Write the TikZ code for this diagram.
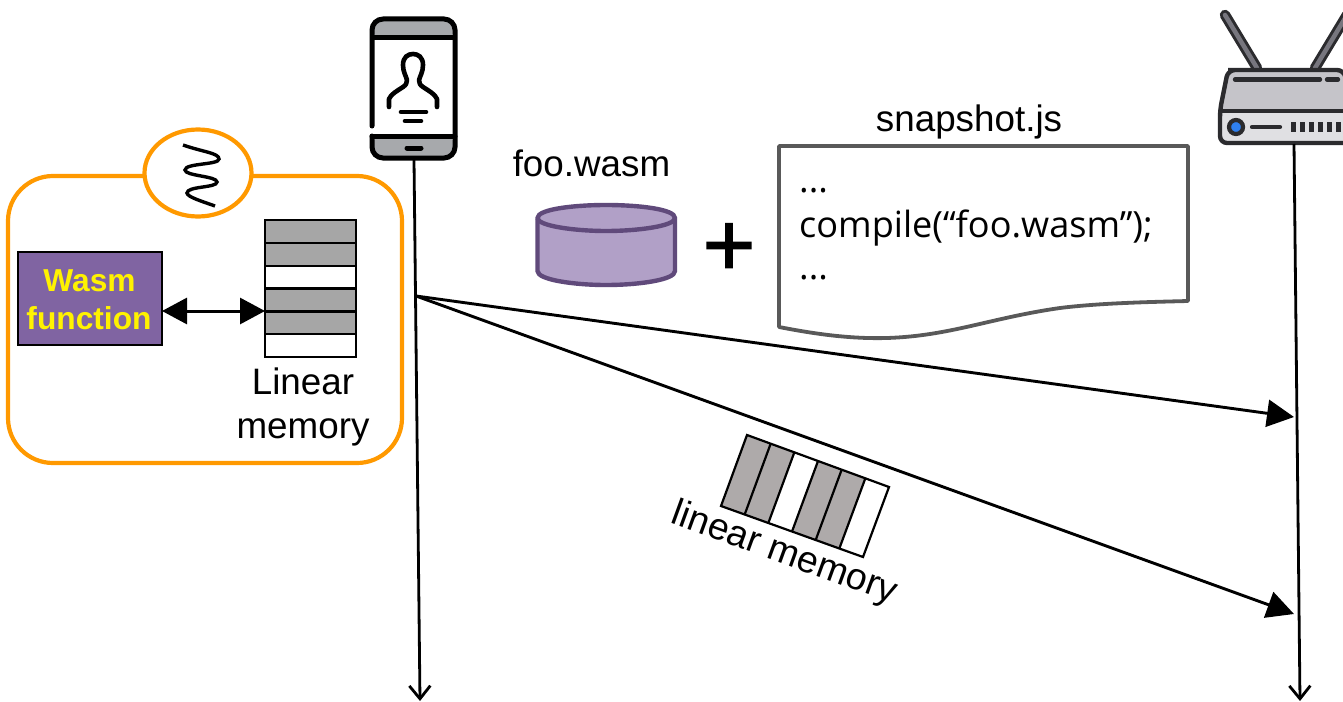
\documentclass[tikz,border=0pt]{standalone}
\usepackage{fontspec}
\setmainfont{Liberation Sans}
\newfontfamily\codefont{Open Sans}
\newfontfamily\plusfont[FakeBold=1.6]{Liberation Sans}
\usetikzlibrary{arrows.meta,calc}
\definecolor{orangeline}{HTML}{FF9900}
\definecolor{purplebox}{HTML}{8064A2}
\definecolor{cylfill}{HTML}{B1A0C7}
\definecolor{cylline}{HTML}{604A7B}
\definecolor{docline}{HTML}{595959}
\definecolor{memgray}{HTML}{A6A6A6}
\definecolor{memgrayb}{HTML}{AEAAAA}
\definecolor{phonegray}{HTML}{A7A9AC}
\definecolor{routerdark}{HTML}{2B2B2E}
\definecolor{routertop}{HTML}{C5C4C9}
\definecolor{routerlow}{HTML}{E0E0E3}
\definecolor{antenna}{HTML}{77767E}
\definecolor{routerblue}{HTML}{2F80F0}
\tikzset{
  label36/.style={inner sep=0pt,font=\fontsize{36.8}{44}\selectfont},
  code36/.style={inner sep=0pt,anchor=base west,font=\codefont\fontsize{36.1}{44}\selectfont},
  lifeline/.style={line width=2.8pt,black,-{Straight Barb[length=13pt,width=21pt,line width=2.8pt]}},
  msg/.style={line width=2.9pt,black,-{Triangle[length=27pt,width=27pt]}},
  memcell/.style={draw=black,line width=2.4pt,minimum width=91pt,minimum height=22.8pt,inner sep=0pt,outer sep=0pt},
  rotcell/.style={draw=black,line width=2.2pt,line join=miter},
}
\begin{document}
\begin{tikzpicture}[x=1pt,y=-1pt]
\clip (0,0) rectangle (1343,701);
% --- orange container
\draw[orangeline,line width=4.2pt,rounded corners=45pt] (8,176) rectangle (402,463);
\draw[orangeline,line width=4.2pt,fill=white] (198,173) ellipse [x radius=53.5pt,y radius=43.5pt];
\draw[black,line width=3.4pt] (183,145) .. controls (203,152) and (219,153) .. (219,159) .. controls (219,165) and (185,163) .. (185,170) .. controls (185,176) and (217,176) .. (217,182) .. controls (217,188) and (187,186) .. (187,193) .. controls (187,197) and (204,202) .. (215,206);
% --- wasm function
\node[draw=black,line width=2pt,fill=purplebox,minimum width=144pt,minimum height=93pt,inner sep=0pt] (fn) at (90,298.5) {};
\node[inner sep=0pt,font=\bfseries\fontsize{31.7}{36}\selectfont,text=yellow] (fnA) at (89.5,281) {Wasm};
\node[inner sep=0pt,font=\bfseries\fontsize{31.7}{36}\selectfont,text=yellow] (fnB) at (89,318) {function};
% --- linear memory stack
\node[memcell,fill=memgray] (m1) at (310.5,231.5) {};
\node[memcell,fill=memgray] (m2) at (310.5,254.3) {};
\node[memcell,fill=white] (m3) at (310.5,277.1) {};
\node[memcell,fill=memgray] (m4) at (310.5,299.9) {};
\node[memcell,fill=memgray] (m5) at (310.5,322.7) {};
\node[memcell,fill=white] (m6) at (310.5,345.5) {};
\coordinate (fnport) at (162,311);
\coordinate (memport) at (265,311);
\draw[line width=3pt,{Triangle[length=25pt,width=26pt]}-{Triangle[length=25pt,width=26pt]}] (fnport) -- (memport);
\node[label36] (l1) at (303,381) {Linear};
\node[label36] (l2) at (303,432) {memory};
% --- phone
\fill[phonegray,rounded corners=10pt] (372,38) -- (372,19) -- (455,19) -- (455,38) -- cycle;
\fill[phonegray,rounded corners=10pt] (372,136) -- (372,158) -- (455,158) -- (455,136) -- cycle;
\draw[black,line width=5pt,line cap=round,rounded corners=11pt] (372,126) -- (372,19) -- (455,19) -- (455,158) -- (372,158) -- (372,136);
\draw[black,line width=5pt] (372,38) -- (455,38);
\draw[black,line width=5pt,line cap=round] (372,136) -- (455,136);
\draw[black,line width=5pt,line cap=round] (407,148) -- (421,148);
\draw[black,line width=4.6pt,line cap=round,line join=round] (389,107) -- (389,99) .. controls (391,94) and (397,91) .. (403,87) .. controls (406,85) and (407,83) .. (407,80) .. controls (406,76) and (403,72) .. (403,65) .. controls (403,57) and (408,54) .. (413,54) .. controls (418,54) and (423,57) .. (423,65) .. controls (423,72) and (420,76) .. (419,80) .. controls (419,83) and (420,85) .. (423,87) .. controls (429,91) and (435,94) .. (437,99) -- (437,107);
\draw[black,line width=4.6pt,line cap=round] (401,112) -- (426,112);
\draw[black,line width=4.6pt,line cap=round] (405,121) -- (421,121);
\coordinate (phone) at (414,160);
\coordinate (phoneend) at (420,701);
\draw[lifeline] (phone) -- (phoneend);
% --- router
\draw[routerdark,line width=10.5pt,line cap=round] (1225,15) -- (1257,68);
\draw[antenna,line width=4.5pt,line cap=round] (1225,15) -- (1257,68);
\draw[routerdark,line width=10.5pt,line cap=round] (1347,15) -- (1315,68);
\draw[antenna,line width=4.5pt,line cap=round] (1347,15) -- (1315,68);
\fill[routerlow,rounded corners=7pt] (1220,105) -- (1220,143) -- (1352,143) -- (1352,105) -- cycle;
\fill[routertop,rounded corners=7pt] (1220,111) -- (1228,70) -- (1344,70) -- (1352,111) -- cycle;
\fill[routertop] (1222,104) rectangle (1350,111);
\draw[routerdark,line width=4.4pt,rounded corners=7pt,line join=round] (1228,70) -- (1344,70) -- (1352,110) -- (1352,143) -- (1220,143) -- (1220,110) -- (1228,70) -- (1240,70);
\draw[routerdark,line width=4.4pt] (1220,111) -- (1352,111);
\draw[routerdark,line width=4.4pt,line cap=round] (1235,79.5) -- (1320,79.5);
\draw[routerdark,line width=4.4pt,line cap=round] (1327,79.5) -- (1338,79.5);
\draw[routerdark,fill=routerblue,line width=4.2pt] (1236,127) circle [radius=7pt];
\draw[routerdark,line width=4.2pt,line cap=round] (1252,127) -- (1280,127);
\foreach \bx in {1293,1302,1311,1320,1329,1338}
  \fill[routerdark] (\bx-2.5,122) rectangle (\bx+2.5,132);
\coordinate (router) at (1294,144);
\coordinate (routerend) at (1300,701);
\draw[lifeline] (router) -- (routerend);
% --- foo.wasm
\node[label36] (foo) at (591.5,163) {foo.wasm};
\draw[cylline,line width=4.4pt,fill=cylfill] (537.5,218) -- (537.5,271) .. controls (537.5,280) and (575,285) .. (606,285) .. controls (638,285) and (675,280) .. (675,271) -- (675,218) .. controls (675,209) and (638,205) .. (606,205) .. controls (575,205) and (537.5,209) .. (537.5,218) -- cycle;
\draw[cylline,line width=4.4pt] (537.5,218) .. controls (537.5,226) and (575,231) .. (606,231) .. controls (638,231) and (675,226) .. (675,218);
\node[inner sep=0pt,font=\plusfont\fontsize{90}{90}\selectfont] (plus) at (729,249.5) {+};
% --- snapshot.js
\node[label36] (snap) at (969,121.5) {snapshot.js};
\draw[docline,fill=white,line width=3.8pt,line join=round] (779,146) -- (1188,146) -- (1188,301) .. controls (1150,302) and (1100,303) .. (1060,308) .. controls (990,318) and (950,336) .. (887,338) .. controls (850,339) and (815,334) .. (779,327) -- cycle;
\node[code36] (d1) at (799,192) {...};
\node[code36] (code) at (799,237) {compile(“foo.wasm”);};
\node[code36] (d2) at (799,279) {...};
% --- messages
\coordinate (tx) at (416,296);
\coordinate (rxA) at (1294,417);
\coordinate (rxB) at (1294,614);
\draw[msg] (tx) -- (rxA);
\draw[msg] (tx) -- (rxB);
% --- rotated linear memory
\coordinate (ra) at (747,435);
\coordinate (rb) at (889,487);
\coordinate (rc) at (863,557);
\coordinate (rd) at (721,506);
\fill[memgrayb] (ra) -- ($(ra)!0.3333!(rb)$) -- ($(rd)!0.3333!(rc)$) -- (rd) -- cycle;
\fill[memgrayb] ($(ra)!0.5!(rb)$) -- ($(ra)!0.8333!(rb)$) -- ($(rd)!0.8333!(rc)$) -- ($(rd)!0.5!(rc)$) -- cycle;
\draw[rotcell] (ra) -- (rb) -- (rc) -- (rd) -- cycle;
\foreach \f in {0.1667,0.3333,0.5,0.6667,0.8333}
  \draw[rotcell] ($(ra)!\f!(rb)$) -- ($(rd)!\f!(rc)$);
\node[inner sep=0pt,font=\fontsize{37.4}{44}\selectfont,rotate=-20] (lm) at (784.5,554) {linear memory};
\end{tikzpicture}
\end{document}
